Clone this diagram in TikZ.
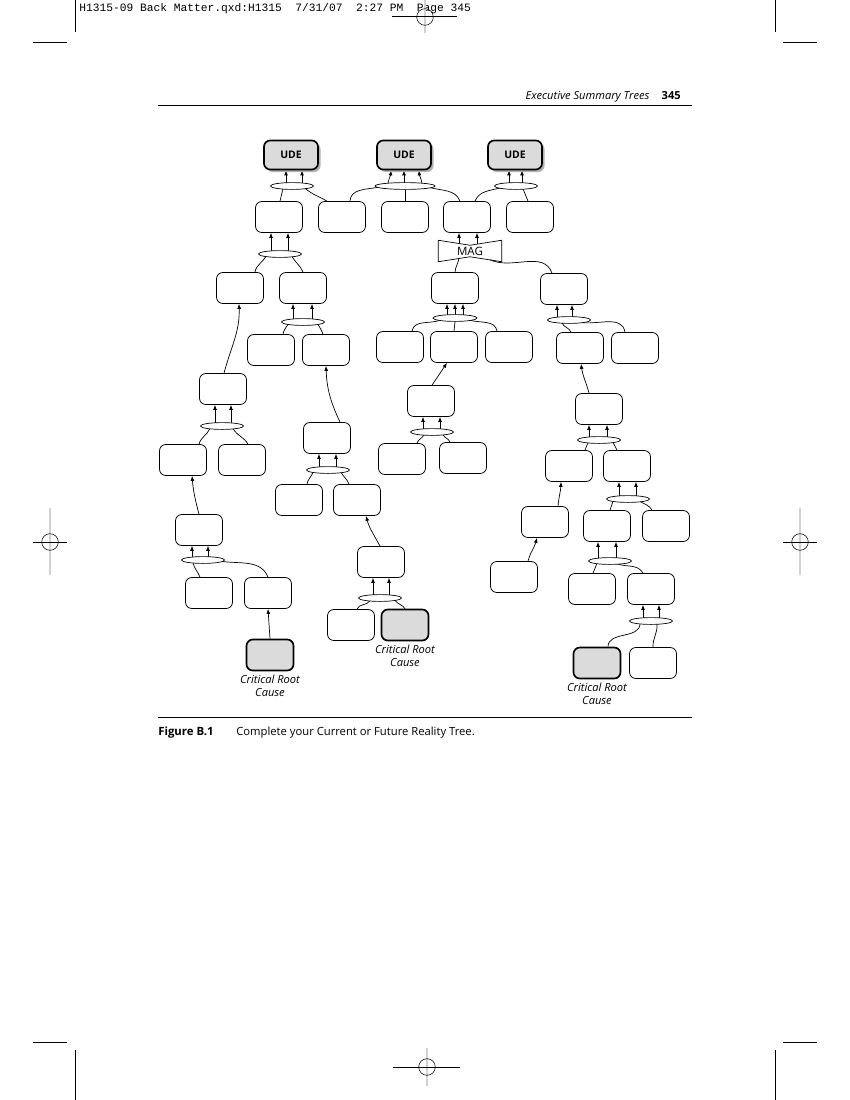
\documentclass[tikz,border=0pt]{standalone}
\usepackage{fontspec}
\setmainfont{Open Sans}
\newfontfamily\hdrmono{Liberation Mono}
\usetikzlibrary{shapes.geometric,arrows.meta,calc,shadows}
\pgfdeclarelayer{bg}
\pgfsetlayers{bg,main}
\newcommand\andarrow[4]{\draw[arr] ($(#1.center)+(#3,2.8)$) -- ($(#2.south)+(#4,0)$);}
\begin{document}
\begin{tikzpicture}[x=0.72pt,y=0.72pt,
  box/.style={draw,line width=0.55pt,rounded corners=4.5pt,minimum width=33.8pt,minimum height=22.3pt,inner sep=0pt,fill=white},
  crc/.style={box,fill=black!14,line width=1.2pt},
  ude/.style={crc,minimum width=38.9pt,minimum height=20.9pt,drop shadow={shadow xshift=1.8pt,shadow yshift=-1.8pt,fill=black!30,opacity=1},font=\bfseries\fontsize{7.5}{9}\selectfont},
  andel/.style={ellipse,draw,line width=0.5pt,fill=white,minimum width=31pt,minimum height=4.9pt,inner sep=0pt},
  arr/.style={-{Latex[length=3.6pt,width=2.8pt]},line width=0.5pt},
  ln/.style={line width=0.5pt},
  lbl/.style={font=\itshape\fontsize{8}{10}\selectfont,align=center,anchor=north,inner sep=0pt},
  crop/.style={line width=0.5pt},
  regl/.style={line width=1.4pt,black!18}
]
\useasboundingbox (0,0) rectangle (850,-1100);

% ---------- page furniture ----------
\node[anchor=base west,inner sep=0pt,font=\hdrmono\fontsize{8.1}{9}\selectfont] (hdr) at (79,-12) {H1315-09 Back Matter.qxd:H1315\ \ 7/31/07\ \ 2:27 PM\ \ Page 345};
\draw[crop] (75,0) -- (75,-32);
\draw[crop] (33,-42) -- (67,-42);
\draw[crop] (775,0) -- (775,-32);
\draw[crop] (783,-42) -- (817,-42);
\draw[crop] (33,-1042) -- (67,-1042);
\draw[crop] (75,-1050) -- (75,-1100);
\draw[crop] (783,-1042) -- (817,-1042);
\draw[crop] (775,-1050) -- (775,-1100);
% registration marks
\draw[regl] (425,0) -- (425,-33);
\draw[crop] (392,-16) -- (457,-16);
\draw[line width=0.4pt] (425,-17) circle[radius=8.3];
\draw[regl] (50,-508) -- (50,-575);
\draw[crop] (33,-542) -- (67,-542);
\draw[line width=0.4pt] (50,-542) circle[radius=8.3];
\draw[regl] (800,-508) -- (800,-575);
\draw[crop] (783,-542) -- (817,-542);
\draw[line width=0.4pt] (800,-542) circle[radius=8.3];
\draw[regl] (427,-1048) -- (427,-1086);
\draw[crop] (393,-1067) -- (460,-1067);
\draw[line width=0.4pt] (427,-1067) circle[radius=8.3];
% running head
\draw[line width=0.6pt] (158,-105) -- (692,-105);
\node[anchor=base east,inner sep=0pt,font=\fontsize{8}{9}\selectfont] (rh) at (681,-100) {\textit{Executive Summary Trees}\hspace{1.1em}\textbf{345}};
% caption
\draw[line width=0.6pt] (158,-717) -- (692,-717);
\node[anchor=base west,inner sep=0pt,font=\bfseries\fontsize{8.2}{9}\selectfont] (figl) at (158,-735) {Figure B.1};
\node[anchor=base west,inner sep=0pt,font=\fontsize{8.1}{9}\selectfont] (figc) at (236,-735) {Complete your Current or Future Reality Tree.};

% ---------- nodes ----------
\node[ude] (U1) at (291,-155) {UDE};
\node[ude] (U2) at (404,-155) {UDE};
\node[ude] (U3) at (515,-155) {UDE};
\node[andel] (E1) at (292,-186) {};
\node[andel,minimum width=43.2pt] (E2) at (405,-186) {};
\node[andel] (E3) at (516,-186) {};
\node[box] (A1) at (279,-217) {};
\node[box] (A2) at (342,-217) {};
\node[box] (A3) at (405,-217) {};
\node[box] (A4) at (467,-217) {};
\node[box] (A5) at (530,-217) {};
\node[minimum width=45.4pt,minimum height=15.1pt,inner sep=0pt,font=\fontsize{8.3}{9}\selectfont] (MAG) at (470,-251) {MAG};
\draw[ln] (MAG.north west) -- ($(MAG.north)+(0,-5)$) -- (MAG.north east) -- (MAG.south east) -- ($(MAG.south)+(0,5)$) -- (MAG.south west) -- cycle;
\node[andel] (E4) at (280,-254) {};
\node[box] (B1) at (240,-288) {};
\node[box] (B2) at (303,-288) {};
\node[box] (B3) at (455,-288) {};
\node[box] (B4) at (564,-289) {};
\node[andel] (E5) at (303,-322) {};
\node[andel,minimum width=31.7pt] (E6) at (455,-318) {};
\node[andel] (E7) at (569,-320) {};
\node[box] (C1) at (271,-350) {};
\node[box] (C2) at (326,-350) {};
\node[box] (C3) at (400,-347) {};
\node[box] (C4) at (454,-347) {};
\node[box] (C5) at (509,-347) {};
\node[box] (C6) at (580,-348) {};
\node[box] (C7) at (635,-348) {};
\node[box] (D1) at (223,-389) {};
\node[box] (D2) at (327,-438) {};
\node[box] (D3) at (431,-401) {};
\node[box] (D4) at (599,-409) {};
\node[andel] (E8) at (222,-426) {};
\node[andel] (E10) at (328,-470) {};
\node[andel] (E12) at (432,-432) {};
\node[andel] (E13) at (599,-440) {};
\node[box] (F1) at (183,-460) {};
\node[box] (F2) at (242,-460) {};
\node[box] (F3) at (299,-500) {};
\node[box] (F4) at (357,-500) {};
\node[box] (F5) at (402,-459) {};
\node[box] (F6) at (463,-458) {};
\node[box] (F7) at (569,-466) {};
\node[box] (F8) at (627,-466) {};
\node[andel] (E14) at (628,-499) {};
\node[box] (G1) at (199,-530) {};
\node[box] (G2) at (381,-562) {};
\node[box] (G3) at (545,-522) {};
\node[box] (G4) at (607,-526) {};
\node[box] (G5) at (666,-526) {};
\node[andel] (E9) at (203,-560) {};
\node[andel] (E11) at (380,-598) {};
\node[andel] (E15) at (610,-561) {};
\node[box] (H1) at (209,-593) {};
\node[box] (H2) at (268,-593) {};
\node[box] (H3) at (351,-625) {};
\node[crc] (R2) at (405,-625) {};
\node[box] (H4) at (514,-577) {};
\node[box] (H5) at (592,-589) {};
\node[box] (H6) at (651,-589) {};
\node[andel] (E16) at (651,-621) {};
\node[crc] (R1) at (270,-655) {};
\node[crc] (R3) at (597,-663) {};
\node[box] (I1) at (653,-663) {};
\node[lbl] (L1) at ($(R1.south)+(0,-3)$) {Critical Root\\Cause};
\node[lbl] (L2) at ($(R2.south)+(0,-3)$) {Critical Root\\Cause};
\node[lbl] (L3) at ($(R3.south)+(0,-3)$) {Critical Root\\Cause};

% ---------- connectors ----------
\begin{pgfonlayer}{bg}
% AND arrows
\andarrow{E1}{U1}{-6}{-5}
\andarrow{E1}{U1}{10}{11}
\draw[arr] ($(E2.center)+(-17,2.6)$) to[out=80,in=-95] ($(U2.south)+(-13,0)$);
\andarrow{E2}{U2}{-1}{0}
\draw[arr] ($(E2.center)+(17,2.6)$) to[out=100,in=-85] ($(U2.south)+(15,0)$);
\andarrow{E3}{U3}{-7}{-6}
\andarrow{E3}{U3}{6}{7}
\draw[arr] ($(MAG.north)+(-11,-4)$) -- ($(A4.south)+(-8,0)$);
\draw[arr] ($(MAG.north)+(7,-4)$) -- ($(A4.south)+(10,0)$);
\andarrow{E4}{A1}{-9}{-8}
\andarrow{E4}{A1}{8}{9}
\andarrow{E5}{B2}{-10}{-10}
\andarrow{E5}{B2}{9}{9}
\andarrow{E6}{B3}{-8}{-8}
\andarrow{E6}{B3}{0}{0}
\andarrow{E6}{B3}{8}{8}
\andarrow{E7}{B4}{-12}{-7}
\andarrow{E7}{B4}{3}{8}
\andarrow{E8}{D1}{-7}{-8}
\andarrow{E8}{D1}{9}{8}
\andarrow{E9}{G1}{-11}{-7}
\andarrow{E9}{G1}{5}{9}
\andarrow{E10}{D2}{-9}{-8}
\andarrow{E10}{D2}{8}{9}
\andarrow{E11}{G2}{-7}{-8}
\andarrow{E11}{G2}{9}{8}
\andarrow{E12}{D3}{-9}{-8}
\andarrow{E12}{D3}{8}{9}
\andarrow{E13}{D4}{-10}{-10}
\andarrow{E13}{D4}{8}{8}
\andarrow{E14}{F8}{-9}{-8}
\andarrow{E14}{F8}{8}{9}
\andarrow{E15}{G4}{-12}{-9}
\andarrow{E15}{G4}{6}{9}
\andarrow{E16}{H6}{-8}{-8}
\andarrow{E16}{H6}{8}{8}
% single causes
\draw[arr] ($(D1.north)+(1,0)$) to[out=75,in=-88] ($(B1.south)+(-1,0)$);
\draw[arr] (G1.north) to[out=105,in=-85] ($(F1.south)+(9,0)$);
\draw[arr] (R1.north) -- (H2.south);
\draw[arr] ($(D2.north)+(13,0)$) to[out=115,in=-88] (C2.south);
\draw[arr] ($(G2.north)+(-1,0)$) to[out=118,in=-75] ($(F4.south)+(9,0)$);
\draw[arr] ($(D3.north)+(1,0)$) -- ($(C4.south)+(-7,0)$);
\draw[arr] ($(D4.north)+(-10,0)$) to[out=105,in=-82] ($(C6.south)+(1,0)$);
\draw[arr] ($(G3.north)+(13,0)$) to[out=85,in=-92] ($(F7.south)+(-8,0)$);
\draw[arr] ($(H4.north)+(14,0)$) to[out=75,in=-105] ($(G3.south)+(-8,0)$);
% feeds into AND connectors
\draw[ln] ($(A1.north)+(1,0)$) -- ($(E1.center)+(-9,-2.7)$);
\draw[ln] ($(A2.north)+(-15,0)$) to[out=150,in=-40] ($(E1.center)+(13,-2.3)$);
\draw[ln] ($(A2.north)+(8,0)$) to[out=88,in=190] ($(E2.center)+(-27,-1.3)$);
\draw[ln] (A3.north) -- (E2.south);
\draw[ln] ($(A4.north)+(-7,0)$) to[out=112,in=-15] ($(E2.center)+(25,-1.6)$);
\draw[ln] ($(A4.north)+(8,0)$) to[out=68,in=195] ($(E3.center)+(-16,-2)$);
\draw[ln] ($(A5.north)+(-2,0)$) -- ($(E3.center)+(7,-2.8)$);
\draw[ln] ($(MAG.south)+(-11,3.5)$) to[out=-100,in=85] (B3.north);
\draw[ln] ($(MAG.south)+(20,2)$) to[out=-25,in=110] ($(B4.north)+(-12,0)$);
\draw[ln] ($(B1.north)+(15,0)$) to[out=80,in=-120] ($(E4.center)+(-14,-2.4)$);
\draw[ln] (B2.north) to[out=112,in=-60] ($(E4.center)+(12,-2.6)$);
\draw[ln] ($(C1.north)+(12,0)$) to[out=80,in=-120] ($(E5.center)+(-15,-2.3)$);
\draw[ln] ($(C2.north)+(-3,0)$) to[out=112,in=-60] ($(E5.center)+(15,-2.3)$);
\draw[ln] ($(C3.north)+(12,0)$) to[out=80,in=200] ($(E6.center)+(-15,-2.3)$);
\draw[ln] (C4.north) -- (E6.south);
\draw[ln] ($(C5.north)+(-12,0)$) to[out=100,in=-15] ($(E6.center)+(15,-2.3)$);
\draw[ln] ($(C6.north)+(-9,0)$) to[out=110,in=-70] ($(E7.center)+(-7,-2.9)$);
\draw[ln] ($(C7.north)+(-10,0)$) to[out=100,in=-8] ($(E7.center)+(12,-2.5)$);
\draw[ln] ($(F1.north)+(16,0)$) to[out=75,in=-115] ($(E8.center)+(-12,-2.5)$);
\draw[ln] ($(F2.north)+(6,0)$) to[out=120,in=-60] ($(E8.center)+(11,-2.6)$);
\draw[ln] ($(H1.north)+(-9,0)$) to[out=110,in=-80] ($(E9.center)+(-10,-2.6)$);
\draw[ln] (H2.north) to[out=112,in=-8] ($(E9.center)+(19,-1.4)$);
\draw[ln] ($(F3.north)+(8,0)$) to[out=80,in=-110] ($(E10.center)+(-15,-2.2)$);
\draw[ln] ($(F4.north)+(-8,0)$) to[out=110,in=-60] ($(E10.center)+(13,-2.4)$);
\draw[ln] ($(H3.north)+(6,0)$) to[out=70,in=-120] ($(E11.center)+(-10,-2.6)$);
\draw[ln] (R2.north) to[out=120,in=-60] ($(E11.center)+(15,-2.2)$);
\draw[ln] ($(F5.north)+(15,0)$) to[out=75,in=-115] ($(E12.center)+(-8,-2.8)$);
\draw[ln] ($(F6.north)+(-13,0)$) to[out=110,in=-65] ($(E12.center)+(11,-2.6)$);
\draw[ln] ($(F7.north)+(16,0)$) -- ($(E13.center)+(-11,-2.6)$);
\draw[ln] ($(F8.north)+(-10,0)$) to[out=110,in=-70] ($(E13.center)+(14,-2.3)$);
\draw[ln] ($(G4.north)+(3,0)$) -- ($(E14.center)+(-15,-2.2)$);
\draw[ln] ($(G5.north)+(-14,0)$) to[out=120,in=-30] ($(E14.center)+(12,-2.5)$);
\draw[ln] ($(H5.north)+(1,0)$) -- ($(E15.center)+(-13,-2.4)$);
\draw[ln] ($(H6.north)+(-8,0)$) to[out=120,in=-20] ($(E15.center)+(7,-2.8)$);
\draw[ln] ($(R3.north)+(11,0)$) to[out=90,in=-90] ($(E16.center)+(-11,-2.6)$);
\draw[ln] (I1.north) to[out=92,in=-85] ($(E16.center)+(6,-2.8)$);
\end{pgfonlayer}
\end{tikzpicture}
\end{document}
